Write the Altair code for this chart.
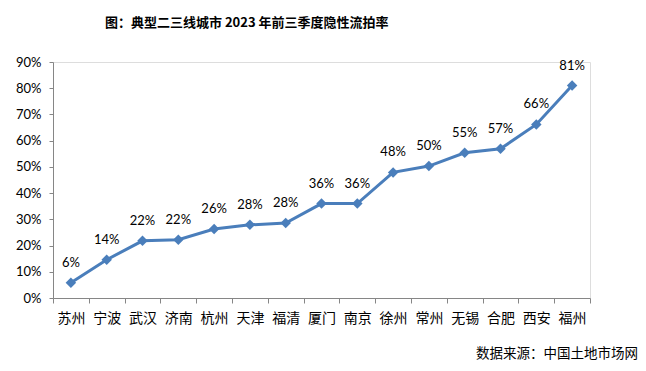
import altair as alt
import pandas as pd

cities = ["苏州", "宁波", "武汉", "济南", "杭州", "天津", "福清", "厦门", "南京",
          "徐州", "常州", "无锡", "合肥", "西安", "福州"]
rates = [0.058, 0.146, 0.218, 0.222, 0.263, 0.279, 0.286, 0.360, 0.360,
         0.479, 0.503, 0.554, 0.569, 0.662, 0.810]
labels = ["6%", "14%", "22%", "22%", "26%", "28%", "28%", "36%", "36%",
          "48%", "50%", "55%", "57%", "66%", "81%"]
y_ticks = [0, 0.1, 0.2, 0.3, 0.4, 0.5, 0.6, 0.7, 0.8, 0.9]

df = pd.DataFrame({"city": cities, "rate": rates, "label": labels})

color = "#4a7ebb"
x = alt.X("city:N", sort=None, title=None,
          scale=alt.Scale(paddingInner=0, paddingOuter=0),
          axis=alt.Axis(labelAngle=0, tickBand="extent", labelFont="Noto Sans CJK SC",
                        labelFontSize=14, labelColor="#000000", labelPadding=8,
                        tickSize=5, tickColor="#868686", domainColor="#868686"))
y = alt.Y("rate:Q", title=None,
          scale=alt.Scale(domain=[0, 0.9], nice=False),
          axis=alt.Axis(values=y_ticks, format=".0%", grid=False, labelFont="Lato",
                        labelFontSize=13, labelColor="#000000", labelPadding=8,
                        tickSize=4, tickColor="#868686", domainColor="#868686"))

base = alt.Chart(df).encode(x=x, y=y)
line = base.mark_line(color=color, strokeWidth=3)
pts = base.mark_point(shape="diamond", filled=True, color=color, size=110, opacity=1)
txt = base.mark_text(dy=-20, font="Lato", fontSize=13, color="#000000").encode(text="label:N")

title_df = pd.DataFrame({"t": ["图：典型二三线城市 2023 年前三季度隐性流拍率"]})
title = alt.Chart(title_df).mark_text(font="Noto Sans CJK SC", fontWeight="bold", fontSize=13,
                                      align="left", baseline="middle", color="#000000").encode(
    x=alt.value(52), y=alt.value(-39), text="t:N")

src_df = pd.DataFrame({"t": ["数据来源：中国土地市场网"]})
src = alt.Chart(src_df).mark_text(font="Noto Sans CJK SC", fontSize=13.5,
                                  align="right", baseline="middle", color="#000000").encode(
    x=alt.value(585), y=alt.value(292), text="t:N")

chart = alt.layer(line, pts, txt, title, src).properties(
    width=537, height=236,
    autosize=alt.AutoSizeParams(type="none"),
    padding={"left": 45, "top": 54, "right": 48, "bottom": 65},
).configure_view(stroke=None).configure(background="#ffffff")

chart.save("out.html", embed_options={"renderer": "svg", "actions": False})
